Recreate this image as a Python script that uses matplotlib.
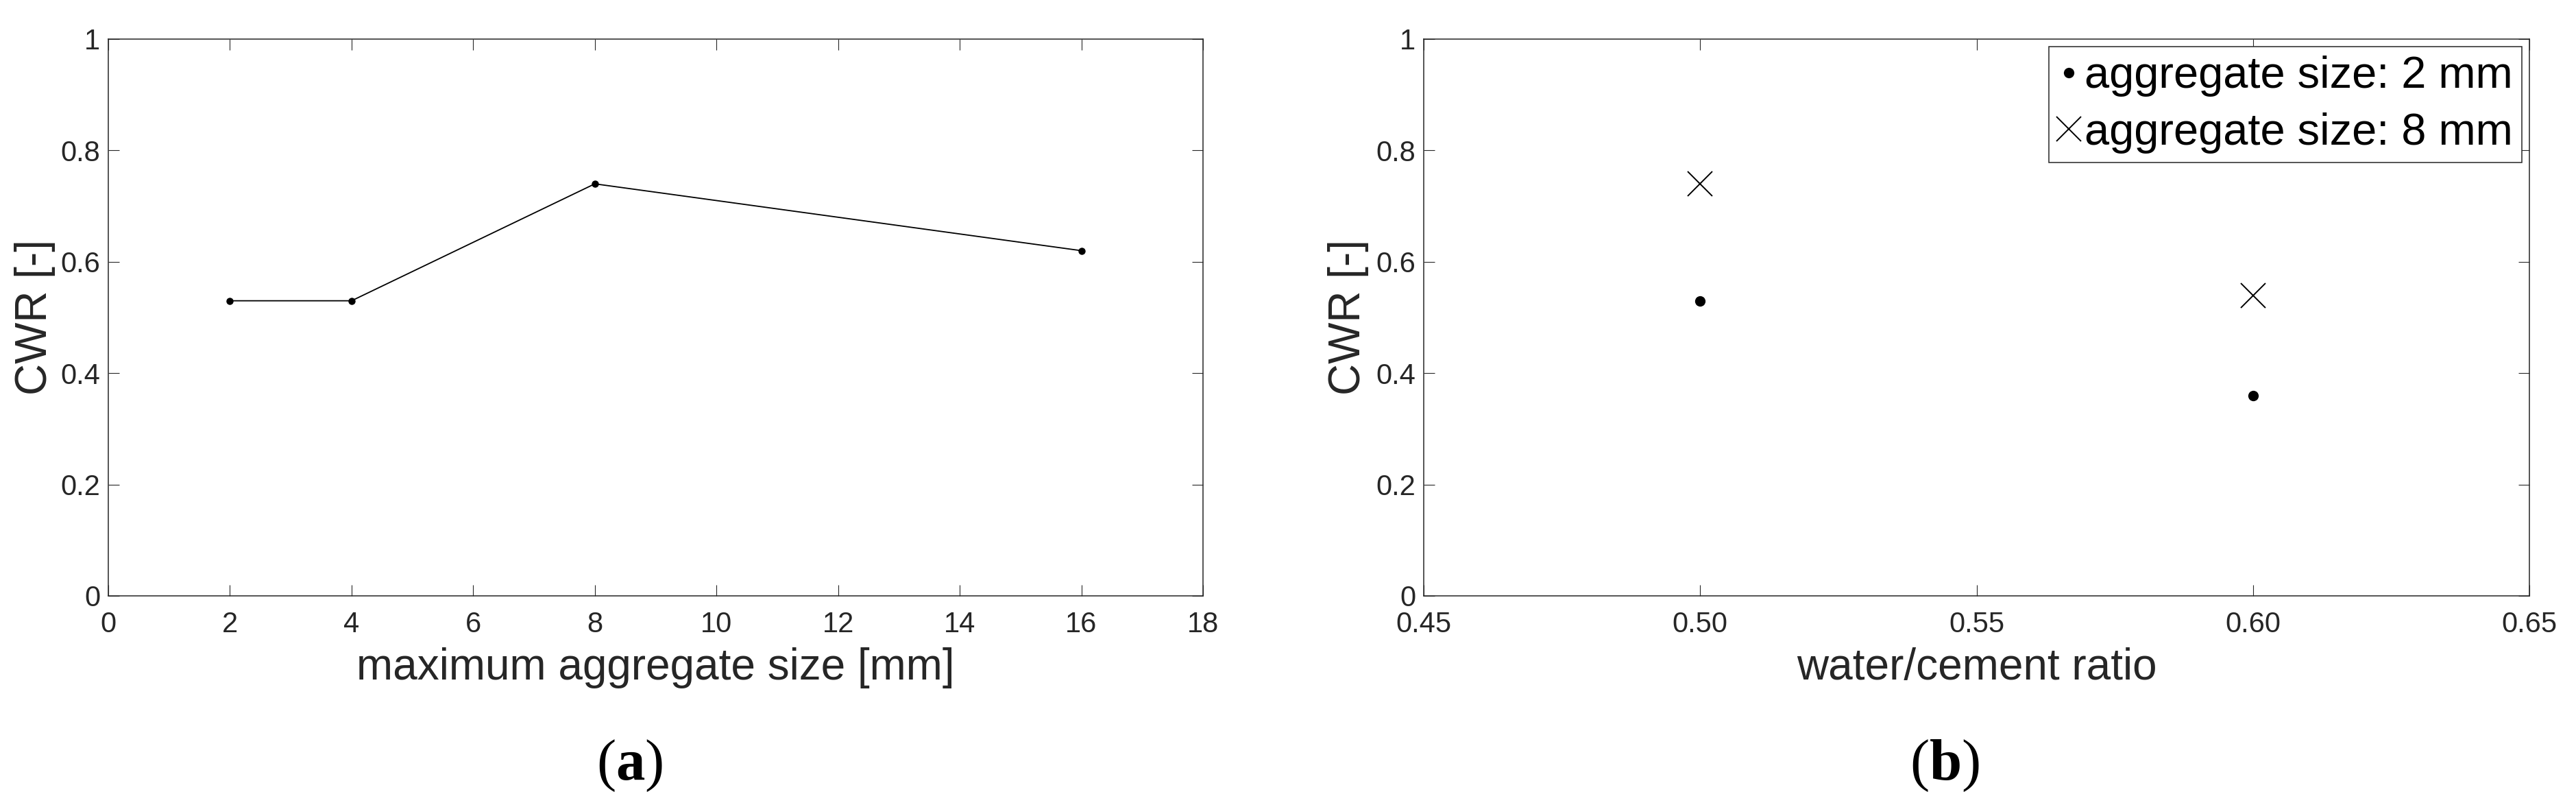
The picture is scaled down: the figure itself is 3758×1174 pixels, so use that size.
import matplotlib
matplotlib.use('Agg')
import matplotlib.pyplot as plt
import numpy as np

# data
agg_size = [2, 4, 8, 16]
cwr_agg = [0.53, 0.53, 0.74, 0.62]

wc_ratio = [0.50, 0.60]
cwr_2mm = [0.53, 0.36]
cwr_8mm = [0.74, 0.54]

x_ticks_a = [0, 2, 4, 6, 8, 10, 12, 14, 16, 18]
x_ticks_b = [0.45, 0.50, 0.55, 0.60, 0.65]
y_ticks = [0, 0.2, 0.4, 0.6, 0.8, 1.0]
y_tick_labels = ['0', '0.2', '0.4', '0.6', '0.8', '1']

plt.rcParams['font.family'] = ['Liberation Sans', 'DejaVu Sans']
plt.rcParams['mathtext.fontset'] = 'custom'
plt.rcParams['mathtext.rm'] = 'Liberation Serif'
plt.rcParams['mathtext.bf'] = 'Liberation Serif:bold'

grey = '#262626'
W, H = 3758, 1174
fig = plt.figure(figsize=(W / 100, H / 100), dpi=100)

ax_a = fig.add_axes([158 / W, (H - 869) / H, 1597 / W, 812 / H])
ax_b = fig.add_axes([2077 / W, (H - 869) / H, 1613 / W, 812 / H])

#(a) line with small dots
ax_a.plot(agg_size, cwr_agg, color='black', linewidth=1.3,
          marker='o', markersize=7.5, markerfacecolor='black', markeredgewidth=0)
ax_a.set_xlim(0, 18)
ax_a.set_xticks(x_ticks_a)
ax_a.set_xticklabels([str(t) for t in x_ticks_a])
ax_a.set_xlabel('maximum aggregate size [mm]', fontsize=46, color=grey)

#(b) scatter of two aggregate sizes
ax_b.plot(wc_ratio, cwr_2mm, linestyle='none', marker='o', markersize=11,
          color='black', markeredgewidth=0, label='aggregate size: 2 mm')
ax_b.plot(wc_ratio, cwr_8mm, linestyle='none', marker='x', markersize=26,
          color='black', markeredgewidth=1.4, label='aggregate size: 8 mm')
ax_b.set_xlim(0.45, 0.65)
ax_b.set_xticks(x_ticks_b)
ax_b.set_xticklabels(['%.2f' % t for t in x_ticks_b])
ax_b.set_xlabel('water/cement ratio', fontsize=46, color=grey)

leg = ax_b.legend(loc='upper right', bbox_to_anchor=(0.993, 0.986),
                  borderaxespad=0, fontsize=46.8, frameon=True, fancybox=False,
                  framealpha=1, edgecolor=grey, borderpad=0.2,
                  handlelength=0.5, handletextpad=0.1, labelspacing=0.35)
leg.get_frame().set_linewidth(1.1)

for ax, ylx in [(ax_a, -0.0482), (ax_b, -0.0496)]:
    ax.set_ylim(0, 1)
    ax.set_yticks(y_ticks)
    ax.set_yticklabels(y_tick_labels)
    ax.set_ylabel('CWR [-]', fontsize=46, color=grey)
    ax.yaxis.set_label_coords(ylx, 0.5)
    ax.xaxis.set_label_coords(0.5, -0.092)
    ax.tick_params(direction='in', top=True, right=True, length=11.5,
                   width=0.8, colors=grey, labelsize=30)
    ax.tick_params(axis='x', pad=16)
    ax.tick_params(axis='y', pad=8.5)
    for sp in ax.spines.values():
        sp.set_linewidth(1.1)
        sp.set_color(grey)

fig.text(919 / W, 1 - 1117 / H, r'($\mathbf{a}$)', fontsize=61,
         ha='center', va='center', family='Liberation Serif')
fig.text(2837 / W, 1 - 1117 / H, r'($\mathbf{b}$)', fontsize=61,
         ha='center', va='center', family='Liberation Serif')

fig.savefig('out.png', dpi=100)
